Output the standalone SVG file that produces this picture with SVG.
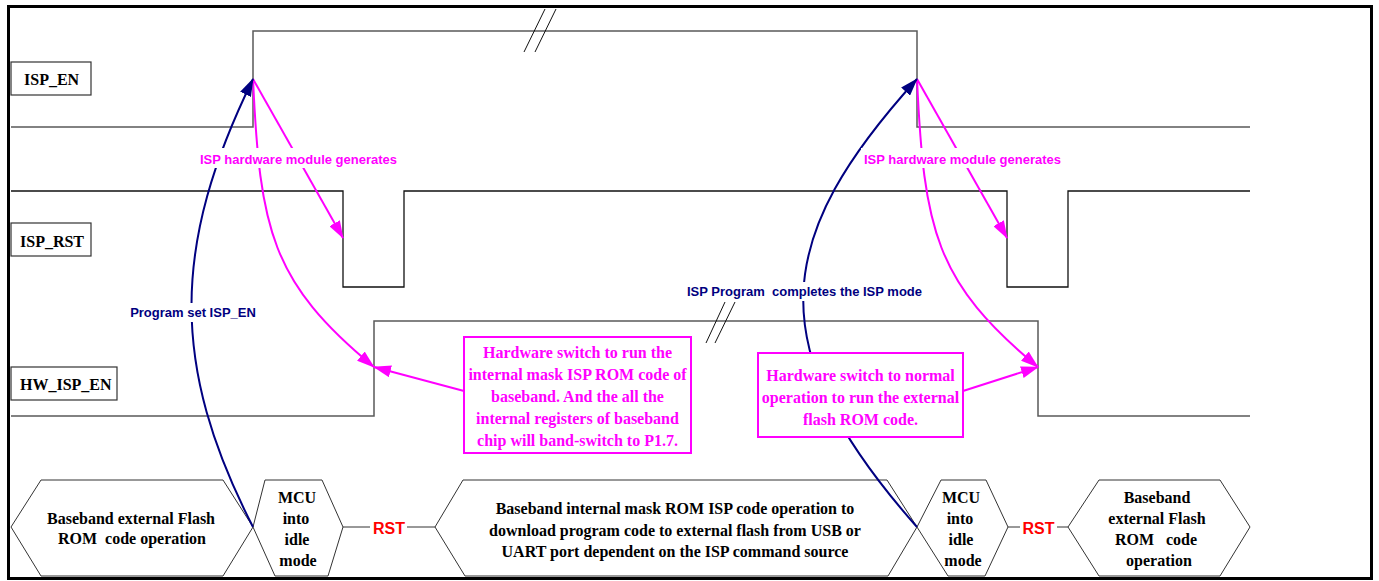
<svg xmlns="http://www.w3.org/2000/svg" width="1379" height="581" viewBox="0 0 1379 581">
<style>
.wave{fill:none;stroke:#5a5a5a;stroke-width:1.5}
.waveb{fill:none;stroke:#111;stroke-width:1.3}
.brk{stroke:#111;stroke-width:1}
.lbox{fill:#fff;stroke:#333;stroke-width:1.2}
.ltxt{font-family:"Liberation Serif",serif;font-weight:bold;font-size:16px;fill:#000}
.hex{fill:#fff;stroke:#333;stroke-width:1}
.htxt{font-family:"Liberation Serif",serif;font-weight:bold;font-size:16px;fill:#000;text-anchor:middle}
.mbox{fill:#fff;stroke:#ff00ff;stroke-width:2}
.mtxt{font-family:"Liberation Serif",serif;font-weight:bold;font-size:16px;fill:#ff00ff;text-anchor:middle}
.mag{fill:none;stroke:#ff00ff;stroke-width:2;marker-end:url(#amag)}
.nav{fill:none;stroke:#000080;stroke-width:2;marker-end:url(#anav)}
.snm{font-family:"Liberation Sans",sans-serif;font-weight:bold;font-size:13px;fill:#ff00ff;text-anchor:middle}
.snn{font-family:"Liberation Sans",sans-serif;font-weight:bold;font-size:13px;fill:#000080;text-anchor:middle;white-space:pre}
.rst{font-family:"Liberation Sans",sans-serif;font-weight:bold;font-size:16px;fill:#ff0000;text-anchor:middle}
.rline{stroke:#333;stroke-width:1}
.bg{fill:#fff}
</style>
<defs>
<marker id="amag" markerUnits="userSpaceOnUse" markerWidth="18" markerHeight="12" refX="17" refY="6" orient="auto"><path d="M0,0 L18,6 L0,12 Z" fill="#ff00ff"/></marker>
<marker id="anav" markerUnits="userSpaceOnUse" markerWidth="18" markerHeight="12" refX="17" refY="6" orient="auto"><path d="M0,0 L18,6 L0,12 Z" fill="#000080"/></marker>
</defs>
<rect x="0" y="0" width="1379" height="581" fill="#fff"/>
<rect x="8.5" y="6.5" width="1363" height="572" fill="none" stroke="#000" stroke-width="3"/>

<g id="isp_en">
<path class="wave" d="M11,127 H253 V31 H917 V127 H1250"/>
<line class="brk" x1="524" y1="52" x2="545" y2="9"/>
<line class="brk" x1="535" y1="52" x2="556" y2="9"/>
<rect class="lbox" x="11" y="62" width="80" height="33"/>
<text class="ltxt" x="24" y="85">ISP_EN</text>
</g>

<g id="isp_rst">
<path class="waveb" d="M11,191 H343 V287 H404 V191 H1007 V287 H1068 V191 H1250"/>
<rect class="lbox" x="11" y="223" width="80" height="33"/>
<text class="ltxt" x="20" y="246.5">ISP_RST</text>
</g>

<g id="hw_isp_en">
<path class="wave" d="M11,416 H374 V321 H1038 V416 H1250"/>
<line class="brk" x1="706" y1="343" x2="725" y2="302"/>
<line class="brk" x1="715" y1="343" x2="735" y2="302"/>
<rect class="lbox" x="11" y="367" width="106" height="33"/>
<text class="ltxt" x="20" y="390">HW_ISP_EN</text>
</g>

<g id="hex1">
<polygon class="hex" points="11,527 41,480 223,480 253,527 223,576 41,576"/>
<text class="htxt" x="131" y="524">Baseband external Flash</text>
<text class="htxt" x="132" y="544" style="white-space:pre">ROM  code operation</text>
</g>
<g id="hex2">
<polygon class="hex" points="253,527 265,480 322,480 343,527 328,576 275,576"/>
<text class="htxt" x="297" y="503">MCU</text>
<text class="htxt" x="296" y="524">into</text>
<text class="htxt" x="297" y="545">idle</text>
<text class="htxt" x="298" y="566">mode</text>
</g>
<g id="rst1">
<line class="rline" x1="343" y1="527" x2="370" y2="527"/>
<text class="rst" x="389" y="534">RST</text>
<line class="rline" x1="407" y1="527" x2="435" y2="527"/>
</g>
<g id="hex3">
<polygon class="hex" points="435,527 463,480 887,480 917,527 888,576 465,576"/>
<text class="htxt" x="675" y="514">Baseband internal mask ROM ISP code operation to</text>
<text class="htxt" x="675" y="535.5">download program code to external flash from USB or</text>
<text class="htxt" x="675" y="557">UART port dependent on the ISP command source</text>
</g>
<g id="hex4">
<polygon class="hex" points="917,527 941,480 986,480 1008,527 985,576 948,576"/>
<text class="htxt" x="961" y="503">MCU</text>
<text class="htxt" x="960" y="524">into</text>
<text class="htxt" x="961" y="545">idle</text>
<text class="htxt" x="963" y="566">mode</text>
</g>
<g id="rst2">
<line class="rline" x1="1008" y1="527" x2="1020" y2="527"/>
<text class="rst" x="1038.5" y="534">RST</text>
<line class="rline" x1="1057" y1="527" x2="1068" y2="527"/>
</g>
<g id="hex5">
<polygon class="hex" points="1068,527 1099,480 1220,480 1250,527 1220,576 1099,576"/>
<text class="htxt" x="1157" y="503">Baseband</text>
<text class="htxt" x="1157" y="524">external Flash</text>
<text class="htxt" x="1156" y="545" style="white-space:pre">ROM   code</text>
<text class="htxt" x="1159" y="566">operation</text>
</g>

<g id="connectors">
<path class="mag" d="M253,79 L343,238"/>
<path class="mag" d="M253,79 C260,230 271,282 374,367"/>
<path class="mag" d="M917,79 L1007,238"/>
<path class="mag" d="M917,79 C924,230 935,282 1038,367"/>
<path class="mag" d="M464,391 L374,367"/>
<path class="mag" d="M963,391 L1038,367"/>
<path class="nav" d="M253,527 C170,365 172,245 253,79"/>
<path class="nav" d="M917,527 C755,344 776,235 917,79"/>
</g>

<g id="labels">
<rect class="bg" x="197" y="148" width="204" height="20"/>
<text class="snm" x="298.5" y="164">ISP hardware module generates</text>
<rect class="bg" x="861" y="148" width="204" height="20"/>
<text class="snm" x="962.5" y="164">ISP hardware module generates</text>
<rect class="bg" x="128" y="303" width="130" height="19"/>
<text class="snn" x="193" y="317">Program set ISP_EN</text>
<rect class="bg" x="684" y="282" width="242" height="19"/>
<text class="snn" x="804.5" y="295.5">ISP Program  completes the ISP mode</text>
</g>

<g id="box1">
<rect class="mbox" x="464" y="337" width="227" height="116"/>
<text class="mtxt" x="577.5" y="358">Hardware switch to run the</text>
<text class="mtxt" x="577.5" y="380">internal mask ISP ROM code of</text>
<text class="mtxt" x="577.5" y="402">baseband. And the all the</text>
<text class="mtxt" x="577.5" y="424">internal registers of baseband</text>
<text class="mtxt" x="577.5" y="446">chip will band-switch to P1.7.</text>
</g>
<g id="box2">
<rect class="mbox" x="758" y="353" width="205" height="84"/>
<text class="mtxt" x="860.5" y="381">Hardware switch to normal</text>
<text class="mtxt" x="860.5" y="403">operation to run the external</text>
<text class="mtxt" x="860.5" y="425">flash ROM code.</text>
</g>
</svg>
